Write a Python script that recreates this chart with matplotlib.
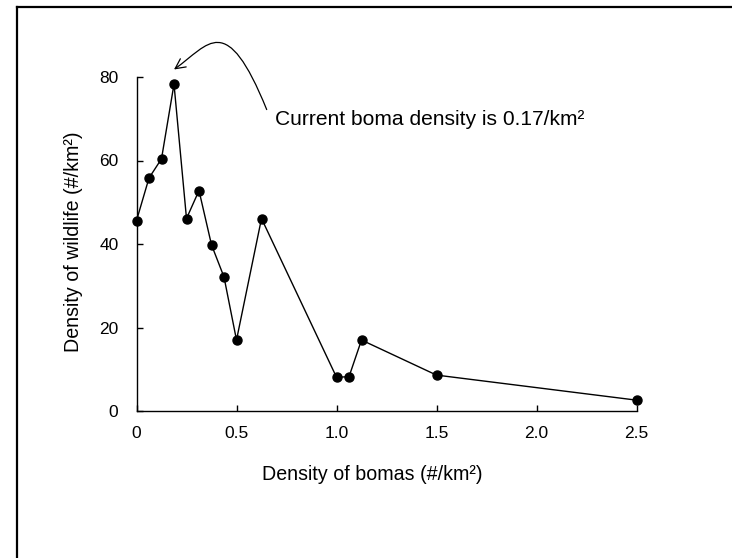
import matplotlib
matplotlib.use("Agg")
import matplotlib.pyplot as plt
from matplotlib.patches import FancyArrowPatch
from matplotlib.path import Path
from matplotlib.lines import Line2D

plt.rcParams['font.family'] = ['Liberation Sans', 'DejaVu Sans']

# Data
boma_density = [0.0, 0.0625, 0.125, 0.1875, 0.25, 0.3125, 0.375, 0.4375, 0.5,
                0.625, 1.0, 1.0625, 1.125, 1.5, 2.5]
wildlife_density = [45.6, 55.8, 60.4, 78.3, 46.1, 52.8, 39.8, 32.1, 17.0,
                    46.1, 8.1, 8.2, 17.0, 8.6, 2.6]
x_ticks = [0, 0.5, 1.0, 1.5, 2.0, 2.5]
x_tick_labels = ["0", "0.5", "1.0", "1.5", "2.0", "2.5"]
y_ticks = [0, 20, 40, 60, 80]
y_tick_labels = ["0", "20", "40", "60", "80"]
annotation_text = "Current boma density is 0.17/km\u00b2"

W, H = 732, 558
fig = plt.figure(figsize=(W / 100, H / 100), dpi=100)
ax = fig.add_axes([136.5 / W, (H - 411) / H, 500 / W, 334 / H])

ax.plot(boma_density, wildlife_density, color='black', lw=1.0,
        marker='o', markersize=6.5, markerfacecolor='black',
        markeredgecolor='black', clip_on=False, zorder=3)

ax.set_xlim(0, 2.5)
ax.set_ylim(0, 80)
ax.set_xticks(x_ticks)
ax.set_xticklabels(x_tick_labels)
ax.set_yticks(y_ticks)
ax.set_yticklabels(y_tick_labels)
for s in ['top', 'right']:
    ax.spines[s].set_visible(False)
for s in ['left', 'bottom']:
    ax.spines[s].set_linewidth(1.0)
ax.tick_params(axis='both', direction='in', length=4, width=1.0,
               labelsize=12.5, colors='black')
ax.tick_params(axis='y', pad=13)
ax.tick_params(axis='x', pad=11)

ax.set_xlabel("Density of bomas (#/km\u00b2)", fontsize=14.1)
ax.xaxis.set_label_coords((372 - 136.5) / 500, (411 - 475) / 334)
ax.xaxis.label.set_va('center')
ax.set_ylabel("Density of wildlife (#/km\u00b2)", fontsize=14.1)
ax.yaxis.set_label_coords((73.5 - 136.5) / 500, (411 - 242) / 334)
ax.yaxis.label.set_va('center')

# Annotation text
fig.text(275 / W, (H - 125) / H, annotation_text, fontsize=15.1,
         ha='left', va='baseline')

# Curved arrow (cubic bezier) in data coordinates
arrow_path = Path([(0.651, 72.2), (0.4475, 96.2), (0.3625, 87.8), (0.1875, 81.8)],
                  [Path.MOVETO, Path.CURVE4, Path.CURVE4, Path.CURVE4])
arrow = FancyArrowPatch(path=arrow_path, arrowstyle='->,head_length=0.6,head_width=0.3',
                        mutation_scale=12, lw=0.9, color='black',
                        transform=ax.transData, clip_on=False)
ax.add_patch(arrow)

# Frame lines (top and left)
fig.add_artist(Line2D([16.5 / W, 16.5 / W], [0, (H - 6.5) / H], color='black', lw=1.6,
                      transform=fig.transFigure))
fig.add_artist(Line2D([16.5 / W, 1], [(H - 6.5) / H, (H - 6.5) / H], color='black', lw=1.6,
                      transform=fig.transFigure))

fig.savefig("out.png", dpi=100)
